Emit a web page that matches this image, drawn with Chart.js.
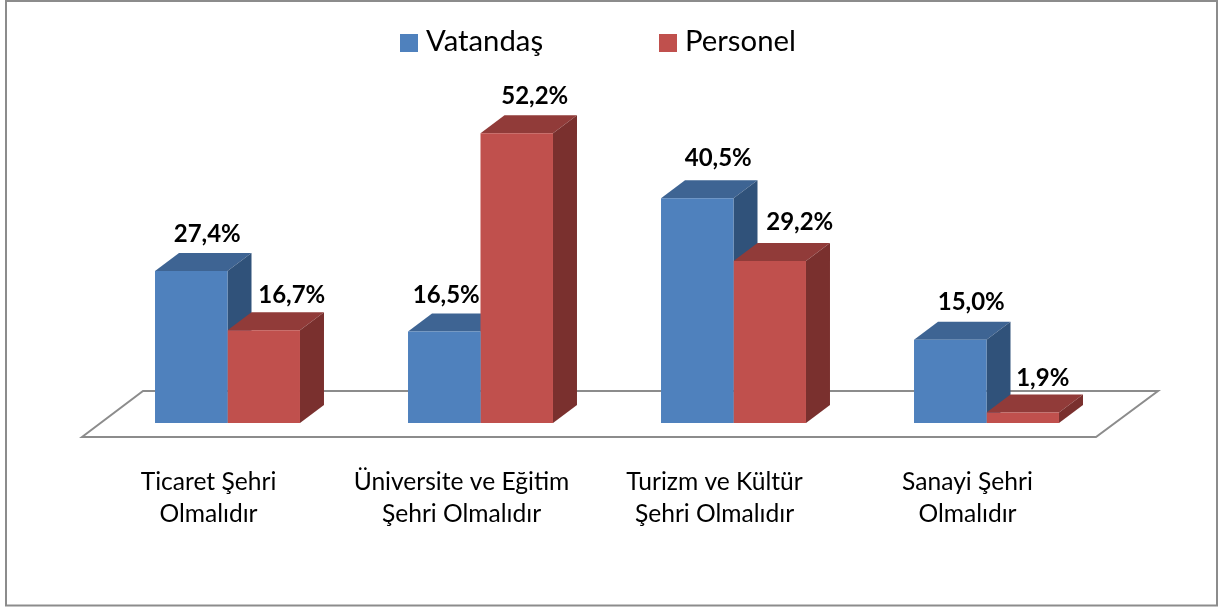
<!DOCTYPE html>
<html>
<head>
<meta charset="utf-8">
<style>
  body { margin: 0; background: #fff; }
  canvas { display: block; }
</style>
<script src="https://cdn.jsdelivr.net/npm/chart.js@4/dist/chart.umd.min.js"></script>
</head>
<body>
<canvas id="myChart" width="1224" height="607"></canvas>
<script>
    var categories = [
      ["Ticaret Şehri", "Olmalıdır"],
      ["Üniversite ve Eğitim", "Şehri Olmalıdır"],
      ["Turizm ve Kültür", "Şehri Olmalıdır"],
      ["Sanayi Şehri", "Olmalıdır"]
    ];
    var vatandas = [27.4, 16.5, 40.5, 15.0];
    var personel = [16.7, 52.2, 29.2, 1.9];

    // hand placed data labels in the original, offset from the top of each bar
    var vatandasNudge = [[16, -37], [2, -36], [21, -40], [21, -37]];
    var personelNudge = [[28, -35], [18, -37], [30, -39], [20, -34]];

    var fontName = "Lato, 'Open Sans', sans-serif";
    var depthX = 24;
    var depthY = 18;

    var faces = [
      { front: "#4F81BD", top: "#3E6493", side: "#30527A", nudge: vatandasNudge },
      { front: "#C0504D", top: "#913B39", side: "#7A302E", nudge: personelNudge }
    ];

    function polygon(ctx, pts, fill, stroke) {
      ctx.beginPath();
      pts.forEach(function(p, i) {
        if (i == 0) ctx.moveTo(p[0], p[1]);
        else ctx.lineTo(p[0], p[1]);
      });
      ctx.closePath();
      if (fill) {
        ctx.fillStyle = fill;
        ctx.fill();
      }
      if (stroke) {
        ctx.strokeStyle = stroke;
        ctx.lineWidth = 2;
        ctx.stroke();
      }
    }

    var frame = {
      id: "frame",
      beforeDraw: function(chart) {
        var ctx = chart.ctx;
        ctx.save();
        ctx.strokeStyle = "#8C8C8C";
        ctx.lineWidth = 2;
        ctx.strokeRect(6, 1, 1211, 604.5);
        ctx.restore();
      }
    };

    var bars3d = {
      id: "bars3d",
      beforeDatasetsDraw: function(chart) {
        var ctx = chart.ctx;
        var area = chart.chartArea;
        ctx.save();

        // floor
        polygon(ctx, [
          [area.left - 19, area.bottom + 14],
          [area.left + 42, area.bottom - 32],
          [area.right + 45, area.bottom - 32],
          [area.right - 17, area.bottom + 14]
        ], "#FFFFFF", "#8C8C8C");

        // top and side of every bar, the library paints the fronts over them
        faces.forEach(function(face, d) {
          chart.getDatasetMeta(d).data.forEach(function(bar) {
            var l = bar.x - bar.width / 2;
            var r = bar.x + bar.width / 2;
            polygon(ctx, [[l, bar.y], [l + depthX, bar.y - depthY], [r + depthX, bar.y - depthY], [r, bar.y]], face.top);
            polygon(ctx, [[r, bar.y], [r + depthX, bar.y - depthY], [r + depthX, bar.base - depthY], [r, bar.base]], face.side);
          });
        });
        ctx.restore();
      },
      afterDatasetsDraw: function(chart) {
        var ctx = chart.ctx;
        ctx.save();
        ctx.font = "bold 24px " + fontName;
        ctx.fillStyle = "#000";
        ctx.textAlign = "center";
        ctx.textBaseline = "middle";
        faces.forEach(function(face, d) {
          var values = chart.data.datasets[d].data;
          chart.getDatasetMeta(d).data.forEach(function(bar, i) {
            var text = values[i].toFixed(1).replace(".", ",") + "%";
            ctx.fillText(text, bar.x + face.nudge[i][0], bar.y + face.nudge[i][1]);
          });
        });
        ctx.restore();
      }
    };

    // the native legend keeps half the font size between box and text, too wide here
    var legendRow = {
      id: "legendRow",
      afterDraw: function(chart) {
        var ctx = chart.ctx;
        var starts = [400, 659];
        ctx.save();
        ctx.font = "29.3px " + fontName;
        ctx.textBaseline = "middle";
        chart.data.datasets.forEach(function(ds, d) {
          ctx.fillStyle = ds.backgroundColor;
          ctx.fillRect(starts[d], 34, 18, 18);
          ctx.fillStyle = "#000";
          ctx.fillText(ds.label, starts[d] + 26, 42);
        });
        ctx.restore();
      }
    };

    var config = {
      type: "bar",
      data: {
        labels: categories,
        datasets: [
          { label: "Vatandaş", data: vatandas, backgroundColor: "#4F81BD", borderWidth: 0 },
          { label: "Personel", data: personel, backgroundColor: "#C0504D", borderWidth: 0 }
        ]
      },
      options: {
        responsive: false,
        animation: false,
        layout: { padding: { left: 101, right: 111, top: 90, bottom: 0 } },
        datasets: { bar: { barPercentage: 1, categoryPercentage: 0.573 } },
        plugins: {
          legend: { display: false },
          tooltip: { enabled: false }
        },
        scales: {
          x: {
            afterFit: function(scale) { scale.height = 184; },
            grid: { display: false },
            border: { display: false },
            ticks: {
              color: "#000",
              font: { family: fontName, size: 24.6, lineHeight: "32px" },
              padding: 35,
              labelOffset: -19,
              maxRotation: 0,
              autoSkip: false
            }
          },
          y: {
            display: false,
            min: 0,
            max: 60
          }
        }
      },
      plugins: [frame, bars3d, legendRow]
    };

    var ctx = document.getElementById("myChart");
    window.cityChart = new Chart(ctx, config);
</script>
</body>
</html>
